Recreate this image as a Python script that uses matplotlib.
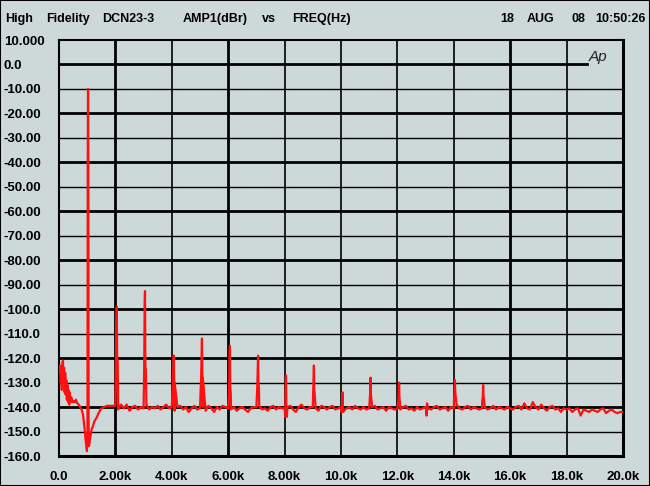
import numpy as np
import matplotlib
matplotlib.use("Agg")
import matplotlib.pyplot as plt
from matplotlib.patches import Rectangle

# Low-frequency part of the trace (kHz, dBr) incl. fundamental and its skirt
low_f = [0.00, 0.02, 0.04, 0.06, 0.08, 0.10, 0.12, 0.14, 0.16, 0.18,
         0.20, 0.22, 0.24, 0.26, 0.28, 0.30, 0.32, 0.34, 0.36, 0.38,
         0.40, 0.44, 0.48, 0.52, 0.56, 0.60, 0.65, 0.70, 0.75, 0.80,
         0.85, 0.88, 0.91, 0.94, 0.97, 0.99, 1.01, 1.02, 1.03, 1.04,
         1.05, 1.06, 1.08, 1.10, 1.13, 1.16, 1.20, 1.25, 1.30, 1.35,
         1.40, 1.45, 1.50, 1.60, 1.70, 1.80, 1.90]
low_db = [-124, -126, -123, -130, -127, -133, -122, -121, -128, -124,
          -134, -126, -135, -129, -137, -131, -138, -133, -139, -134,
          -138, -136, -138, -137.5, -138, -137, -138.5, -139, -140, -141,
          -143, -146, -149, -153, -156, -158, -150, -40, -10, -40,
          -148, -156, -155, -153, -151, -149, -148, -146, -145, -144,
          -142.5, -141.5, -140.5, -140, -139.5, -139.5, -139.5]

# Noise floor, 2.0k .. 20.0k every 0.1k
floor_f = np.round(np.arange(2.0, 20.05, 0.1), 2)
floor_db = [
    -139.5, -141, -139, -140.5, -139, -141.5, -140, -139.5, -141, -140,
    -140.5, -139, -141, -140, -140.5, -139.5, -141, -140, -139, -140.5,
    -140, -141.5, -140, -139.5, -141, -140, -142, -140.5, -139.5, -141,
    -140.5, -140, -141.5, -139.5, -140.5, -142, -140, -141, -139.5, -140,
    -140.5, -141, -140, -141.5, -140.5, -140, -141, -142, -140.5, -140,
    -140, -139.5, -141, -140.5, -141.5, -140, -139.5, -141, -140, -140.5,
    -140.5, -140, -139.5, -141, -142, -140, -139, -140.5, -141, -140,
    -140, -140.5, -141.5, -139.5, -140, -141, -140, -139.5, -141, -140.5,
    -140, -141.5, -140.5, -140, -141, -139.5, -140.5, -141, -140, -141,
    -140.5, -140, -139.5, -141, -140.5, -140, -141.5, -140, -140.5, -141,
    -140.5, -141, -140, -139.5, -141, -140.5, -141.5, -140, -141, -140.5,
    -140, -140.5, -141, -140, -139.5, -141, -140.5, -140, -141.5, -140,
    -140.5, -139, -140.5, -141, -140, -139.5, -141, -140, -140.5, -141,
    -140.5, -140, -141, -140.5, -139.5, -141, -140, -140.5, -141, -140,
    -140.5, -141, -140, -139.5, -141, -138.5, -140.5, -141, -138, -140,
    -141, -139, -140.5, -141.5, -140, -139.5, -141, -140.5, -142, -140.5,
    -141, -140.5, -142, -141, -140.5, -143.5, -141, -141.5, -142, -141,
    -141.5, -142, -141, -140.5, -142.5, -141.5, -141, -142, -142.5, -142,
    -142]

# Harmonics 2..15: frequency (kHz), peak (dBr), base shoulder (dBr)
harm_f = [2.05, 3.05, 4.07, 5.07, 6.06, 7.06, 8.05, 9.04, 10.05, 11.05,
          12.06, 13.05, 14.04, 15.04]
harm_db = [-99, -92.6, -119, -112, -115, -119, -127, -123, -134, -128,
           -130, -138.5, -129, -131]
harm_base = [-121, -125, -130, -128, -134, -132, -144, -135, -142, -137,
             -138, -141, -136, -137]

y_ticks = [10, 0, -10, -20, -30, -40, -50, -60, -70, -80, -90, -100,
           -110, -120, -130, -140, -150, -160]
y_labels = ["10.000", "0.0", "-10.00", "-20.00", "-30.00", "-40.00",
            "-50.00", "-60.00", "-70.00", "-80.00", "-90.00", "-100.0",
            "-110.0", "-120.0", "-130.0", "-140.0", "-150.0", "-160.0"]
x_ticks = [0, 2, 4, 6, 8, 10, 12, 14, 16, 18, 20]
x_labels = ["0.0", "2.00k", "4.00k", "6.00k", "8.00k", "10.0k", "12.0k",
            "14.0k", "16.0k", "18.0k", "20.0k"]

# build trace
f_all = list(low_f) + list(floor_f)
d_all = list(low_db) + list(floor_db)
for f, p, b in zip(harm_f, harm_db, harm_base):
    f_all += [f - 0.03, f - 0.012, f, f + 0.012, f + 0.03]
    d_all += [b, p - 5, p, b + 2, b]
order = np.argsort(f_all, kind="stable")
f_all = np.array(f_all)[order]
d_all = np.array(d_all)[order]

bg = "#cdd8d8"
W, H = 650, 486
fig = plt.figure(figsize=(6.5, 4.86), dpi=100, facecolor=bg)
ax = fig.add_axes([59 / W, 1 - 456 / H, 564 / W, 416 / H], facecolor=bg)
ax.set_xlim(0, 20)
ax.set_ylim(-160, 10)

# grid
for v in y_ticks[1:]:
    lw = 2.0 if v % 20 == 0 else 1.0
    xmax = 528 / 564 if v == 0 else 1
    ax.axhline(v, xmax=xmax, color="black", lw=lw, zorder=1)
for v in x_ticks[1:-1]:
    lw = 2.0 if v in (2, 6, 16) else 1.2
    ax.axvline(v, color="black", lw=lw, zorder=1)

ax.plot(f_all, d_all, color="#ff1010", lw=1.6, zorder=3)

for s in ax.spines.values():
    s.set_color("black")
    s.set_linewidth(1.5)
ax.spines["right"].set_linewidth(2.2)
ax.spines["bottom"].set_linewidth(2.2)

font = ["Liberation Sans", "DejaVu Sans"]
ax.set_yticks(y_ticks)
ax.set_yticklabels(y_labels, ha="left", fontsize=9.5, fontweight="bold",
                   family=font)
ax.set_xticks(x_ticks)
ax.set_xticklabels(x_labels, fontsize=9.5, fontweight="bold", family=font)
ax.tick_params(axis="y", length=0, pad=39.6)
ax.tick_params(axis="x", length=0, pad=11)

ax.text(0.955, 0.975, "Ap", transform=ax.transAxes, ha="center", va="top",
        fontsize=11, style="italic", color="#222222", family=font)

# header
hdr = [(5, "High"), (46, "Fidelity"), (102, "DCN23-3"), (183, "AMP1(dBr)"),
       (262, "vs"), (292, "FREQ(Hz)"), (500, "18"), (527, "AUG"),
       (571, "08")]
for x, t in hdr:
    fig.text(x / W, 1 - 19 / H, t, ha="left", va="center", fontsize=9,
             fontweight="bold", family=font)
fig.text(646 / W, 1 - 19 / H, "10:50:26", ha="right", va="center",
         fontsize=9, fontweight="bold", family=font)

fig.patches.append(Rectangle((0, 0), 1, 1, transform=fig.transFigure,
                             fill=False, edgecolor="black", lw=1.5))
fig.savefig("out.png", dpi=100, facecolor=bg)
